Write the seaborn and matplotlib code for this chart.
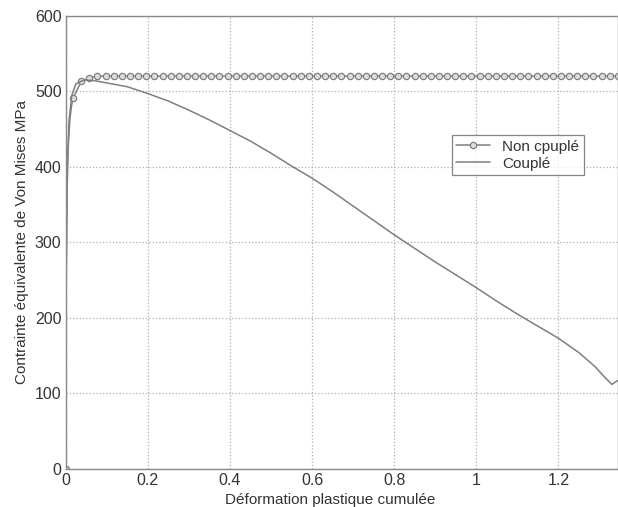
import numpy as np
import pandas as pd
import matplotlib
matplotlib.use("Agg")
import matplotlib.pyplot as plt
import seaborn as sns

# Non couplé: dense points near the origin, markers at the sampled points
nc_x = [0, 0.001, 0.003, 0.006, 0.010, 0.014,
        0.018, 0.0378, 0.0576, 0.0774, 0.0972, 0.117, 0.1368, 0.1566, 0.1764, 0.1962,
        0.216, 0.2358, 0.2556, 0.2754, 0.2952, 0.315, 0.3348, 0.3546, 0.3744, 0.3942,
        0.414, 0.4338, 0.4536, 0.4734, 0.4932, 0.513, 0.5328, 0.5526, 0.5724, 0.5922,
        0.612, 0.6318, 0.6516, 0.6714, 0.6912, 0.711, 0.7308, 0.7506, 0.7704, 0.7902,
        0.81, 0.8298, 0.8496, 0.8694, 0.8892, 0.909, 0.9288, 0.9486, 0.9684, 0.9882,
        1.008, 1.0278, 1.0476, 1.0674, 1.0872, 1.107, 1.1268, 1.1466, 1.1664, 1.1862,
        1.206, 1.2258, 1.2456, 1.2654, 1.2852, 1.305, 1.3248, 1.3446]
nc_y = [0, 220, 360, 425, 462, 480,
        491, 513, 518, 520, 520, 520, 520, 520, 520, 520,
        520, 520, 520, 520, 520, 520, 520, 520, 520, 520,
        520, 520, 520, 520, 520, 520, 520, 520, 520, 520,
        520, 520, 520, 520, 520, 520, 520, 520, 520, 520,
        520, 520, 520, 520, 520, 520, 520, 520, 520, 520,
        520, 520, 520, 520, 520, 520, 520, 520, 520, 520,
        520, 520, 520, 520, 520, 520, 520, 520]
nc_marks = [0] + list(range(6, len(nc_x)))

# Couplé
c_x = [0, 0.001, 0.004, 0.008, 0.015, 0.025, 0.045, 0.07, 0.1, 0.15, 0.2, 0.25,
       0.3, 0.35, 0.4, 0.45, 0.5, 0.55, 0.6, 0.65, 0.7, 0.75, 0.8, 0.85, 0.9,
       0.95, 1.0, 1.05, 1.1, 1.15, 1.2, 1.25, 1.29, 1.31, 1.33, 1.344]
c_y = [0, 250, 400, 460, 495, 510, 515, 514, 511, 506, 497, 487,
       475, 462, 448, 434, 418, 401, 385, 367, 348, 329, 310, 292, 274,
       257, 240, 222, 205, 189, 173, 154, 135, 123, 112, 117]

sns.set_style("white")
plt.rcParams["font.family"] = ["Liberation Sans", "DejaVu Sans"]

fig = plt.figure(figsize=(6.18, 5.07), dpi=100)
ax = fig.add_axes([65.7 / 618, 1 - 469 / 507, 1 - 65.7 / 618, (469 - 15.7) / 507])

line_col = "#7f7f7f"
sns.lineplot(x=nc_x, y=nc_y, ax=ax, color=line_col, lw=1.1, sort=False,
             marker="o", markersize=4.5, markerfacecolor="#dedede",
             markeredgecolor=line_col, markeredgewidth=0.9,
             markevery=nc_marks, label="Non cpuplé")
sns.lineplot(x=c_x, y=c_y, ax=ax, color=line_col, lw=1.1, sort=False, label="Couplé")

ax.set_xlim(0, 1.345)
ax.set_ylim(0, 600)
ax.set_xticks([0, 0.2, 0.4, 0.6, 0.8, 1, 1.2])
ax.set_xticklabels(["0", "0.2", "0.4", "0.6", "0.8", "1", "1.2"])
ax.set_yticks([0, 100, 200, 300, 400, 500, 600])

ax.grid(True, linestyle=":", color="#b0b0b0", lw=0.9)
for s in ax.spines.values():
    s.set_color("#8a8a8a")
    s.set_linewidth(1.0)
ax.tick_params(direction="in", length=4, color="#8a8a8a", labelsize=11.5,
               labelcolor="#333333", pad=3)

ax.set_xlabel("Déformation plastique cumulée", fontsize=11, color="#333333")
ax.set_ylabel("Contrainte équivalente de Von Mises MPa", fontsize=11, color="#333333", labelpad=4)
ax.xaxis.set_label_coords(0.478, -0.052)

leg = ax.legend(loc="upper left", bbox_to_anchor=(0.699, 0.737), fontsize=11,
                frameon=True, fancybox=False, handlelength=2.2, borderpad=0.3,
                labelspacing=0.2, handletextpad=0.8, borderaxespad=0)
leg.get_frame().set_edgecolor("#666666")
leg.get_frame().set_linewidth(0.9)
for t in leg.get_texts():
    t.set_color("#333333")

fig.savefig("out.png", dpi=100)
